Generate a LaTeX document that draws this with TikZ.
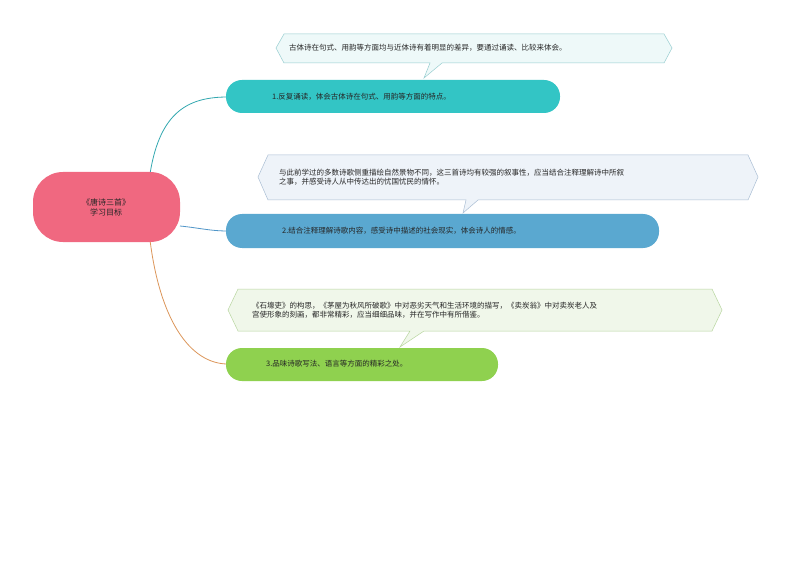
\documentclass[tikz,border=0pt]{standalone}
\usepackage{fontspec}
\setmainfont{Noto Sans CJK SC}
\begin{document}
\begin{tikzpicture}[x=1pt,y=-1pt,
 txt/.style={font=\fontsize{7.5}{8.5}\selectfont,text=black!85,align=left,anchor=west,inner sep=0},
 branch/.style={rounded corners=16pt,draw=none}]
\useasboundingbox (0,0) rectangle (794,561);
\fill[white] (0,0) rectangle (794,561);
% connectors
\coordinate (r1) at (150,174); \coordinate (r2) at (180,226); \coordinate (r3) at (150,240);
\coordinate (b1) at (228,97); \coordinate (b2) at (228,231); \coordinate (b3) at (228,364);
\draw[color={rgb,255:red,51;green,168;blue,176},line width=0.8pt] (r1) .. controls (160,110) and (190,97) .. (b1);
\draw[color={rgb,255:red,80;green,150;blue,200},line width=0.8pt] (r2) .. controls (200,228) and (210,231) .. (b2);
\draw[color={rgb,255:red,220;green,150;blue,90},line width=0.8pt] (r3) .. controls (160,320) and (190,364) .. (b3);
% root
\fill[color={rgb,255:red,240;green,104;blue,128},rounded corners=30pt] (33,172) rectangle (180,242);
\node[font=\fontsize{8}{10}\selectfont,align=center,text=black!85] (root) at (106,207) {《唐诗三首》\\学习目标};
% branches
\fill[branch,color={rgb,255:red,51;green,197;blue,197}] (226,80) rectangle (560,113);
\node[txt] (t1) at (272,97) {1.反复诵读，体会古体诗在句式、用韵等方面的特点。};
\fill[branch,color={rgb,255:red,90;green,168;blue,208}] (226,214) rectangle (659,248);
\node[txt] (t2) at (282,231) {2.结合注释理解诗歌内容，感受诗中描述的社会现实，体会诗人的情感。};
\fill[branch,color={rgb,255:red,143;green,209;blue,79}] (226,348) rectangle (498,381);
\node[txt] (t3) at (266,364) {3.品味诗歌写法、语言等方面的精彩之处。};
% callouts
\filldraw[fill={rgb,255:red,238;green,249;blue,249},draw={rgb,255:red,150;green,205;blue,208},line width=0.5pt]
 (284,34) -- (664,34) -- (672,48) -- (664,63) -- (442,63) -- (424,78) -- (430,63) -- (284,63) -- (276,48) -- cycle;
\node[txt] (c1) at (289,48) {古体诗在句式、用韵等方面均与近体诗有着明显的差异，要通过诵读、比较来体会。};
\filldraw[fill={rgb,255:red,238;green,243;blue,249},draw={rgb,255:red,170;green,190;blue,212},line width=0.5pt]
 (268,155) -- (748,155) -- (758,177) -- (748,200) -- (478,200) -- (463,213) -- (466,200) -- (268,200) -- (258,177) -- cycle;
\node[txt] (c2) at (279,177) {与此前学过的多数诗歌侧重描绘自然景物不同，这三首诗均有较强的叙事性，应当结合注释理解诗中所叙\\之事，并感受诗人从中传达出的忧国忧民的情怀。};
\filldraw[fill={rgb,255:red,240;green,247;blue,234},draw={rgb,255:red,184;green,214;blue,160},line width=0.5pt]
 (238,289) -- (712,289) -- (722,310) -- (712,331) -- (424,331) -- (400,347) -- (410,331) -- (238,331) -- (228,310) -- cycle;
\node[txt] (c3) at (252,310) {《石壕吏》的构思，《茅屋为秋风所破歌》中对恶劣天气和生活环境的描写，《卖炭翁》中对卖炭老人及\\宫使形象的刻画，都非常精彩，应当细细品味，并在写作中有所借鉴。};
\end{tikzpicture}
\end{document}
